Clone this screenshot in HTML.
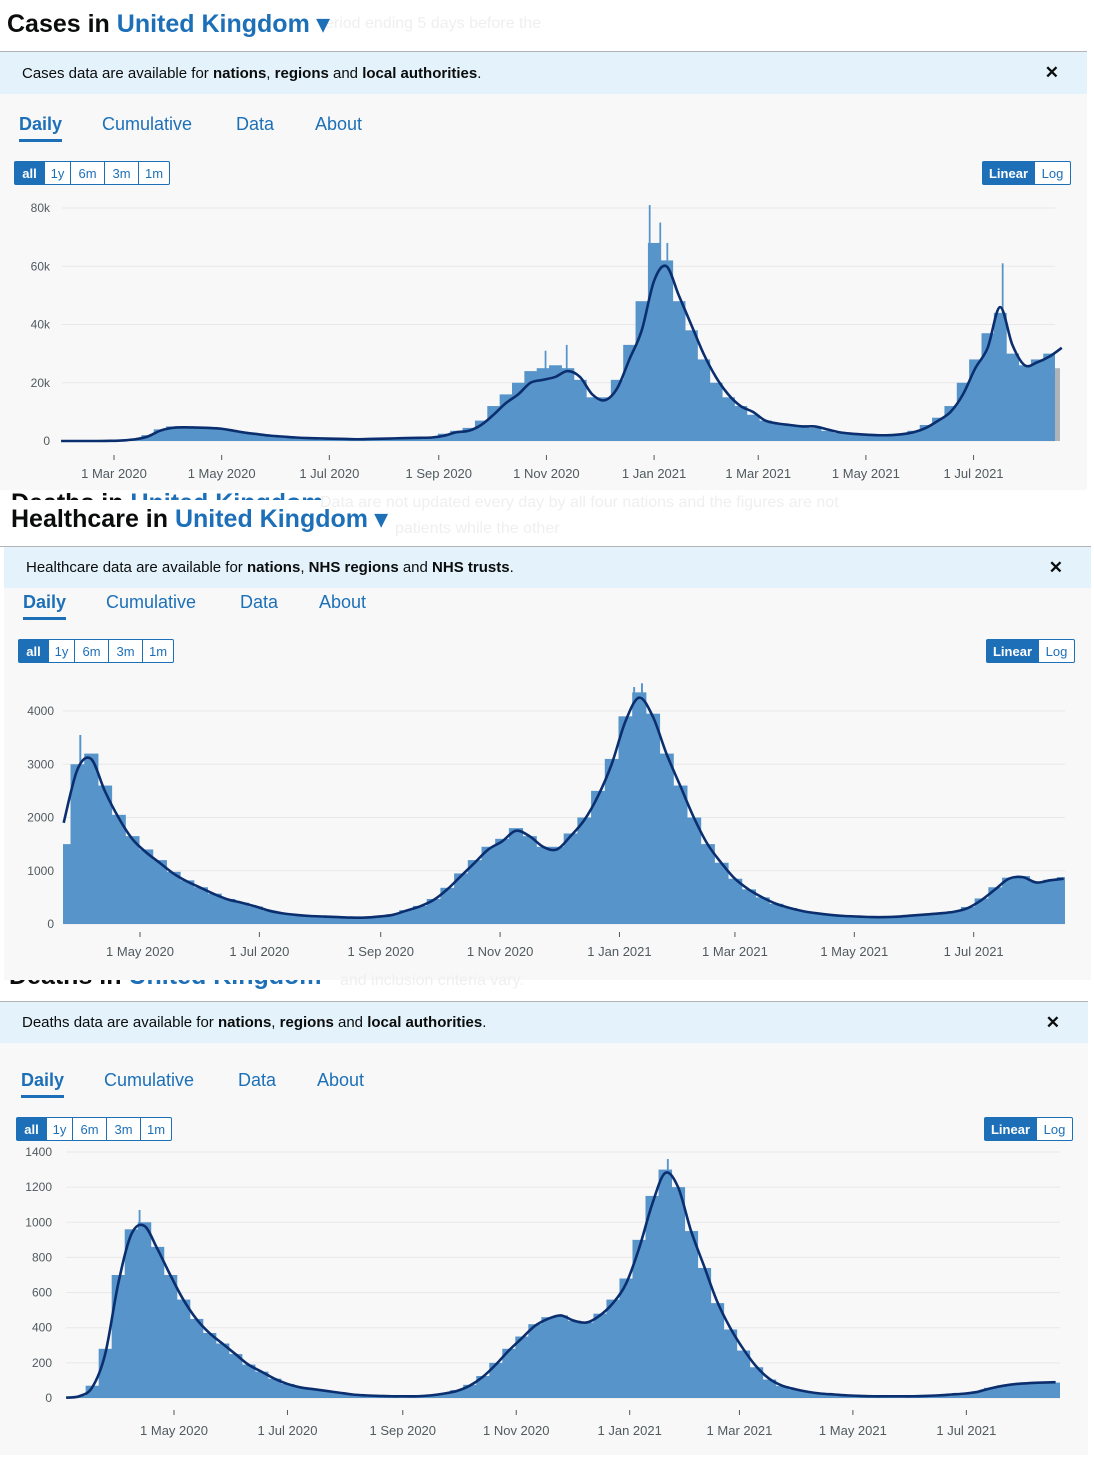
<!DOCTYPE html>
<html><head><meta charset="utf-8"><style>
body{margin:0;width:1094px;height:1461px;position:relative;background:#fff;font-family:"Liberation Sans",sans-serif;overflow:hidden}
.abs{position:absolute}
.title{font-size:25px;font-weight:bold;color:#0b0c0c;white-space:nowrap}
.title span{color:#1d70b8}
.ghost{color:#efefef;font-size:16px;white-space:nowrap}
.hr{height:1px;background:#b1b4b6}
.banner{background:#e3f2fb;font-size:15px;color:#0b0c0c;box-sizing:border-box;padding-left:22px;display:flex;align-items:center}
.close{position:absolute;right:28px;top:11px;font-size:17px;font-weight:bold}
.panel{background:#f8f8f8}
.tab{position:absolute;font-size:18px;color:#1d70b8;white-space:nowrap}
.tab.on{font-weight:bold}
.ul{position:absolute;height:3px;background:#1d70b8}
.btns{position:absolute;display:flex;border:1px solid #1d70b8;border-radius:2px;height:22px;font-size:13px;background:#fff}
.btns div{color:#1d70b8;border-left:1px solid #1d70b8;display:flex;align-items:center;justify-content:center}
.btns div:first-child{border-left:none}
.btns div.on{background:#1d70b8;color:#fff;font-weight:bold}
svg text{font-family:"Liberation Sans",sans-serif;font-size:12px;fill:#505a5f}
</style></head><body>

<!-- Panel 1: cases -->
<div class="abs ghost" style="left:325px;top:15px">eriod ending 5 days before the</div>
<div class="abs title" style="left:7px;top:9px">Cases in <span>United Kingdom ▾</span></div>
<div class="abs hr" style="left:0;top:51px;width:1087px"></div>
<div class="abs banner" style="left:0;top:52px;width:1087px;height:42px">Cases data are available for&nbsp;<b>nations</b>,&nbsp;<b>regions</b>&nbsp;and&nbsp;<b>local authorities</b>.<span class="close">✕</span></div>
<div class="abs panel" style="left:0;top:94px;width:1087px;height:396px"></div>
<div class="tab on" style="left:19px;top:114px">Daily</div>
<div class="ul" style="left:19px;top:139px;width:43px"></div>
<div class="tab" style="left:102px;top:114px">Cumulative</div>
<div class="tab" style="left:236px;top:114px">Data</div>
<div class="tab" style="left:315px;top:114px">About</div>
<div class="btns" style="left:14px;top:161px"><div class="on" style="width:29px">all</div><div style="width:25px">1y</div><div style="width:33px">6m</div><div style="width:33px">3m</div><div style="width:30px">1m</div></div>
<div class="btns" style="left:982px;top:161px"><div class="on" style="width:51px">Linear</div><div style="width:35px">Log</div></div>
<svg id="c1" class="abs" style="left:0;top:190px" width="1087" height="300"></svg>

<!-- between 1 and 2 -->
<div class="abs title" style="left:11px;top:489px;z-index:-1">Deaths in <span>United Kingdom</span></div>
<div class="abs" style="left:0;top:500px;width:1094px;height:46px;background:#fff"></div>
<div class="abs ghost" style="left:320px;top:494px">Data are not updated every day by all four nations and the figures are not</div>
<div class="abs ghost" style="left:395px;top:520px">patients while the other</div>
<!-- Panel 2: healthcare -->
<div class="abs title" style="left:11px;top:504px">Healthcare in <span>United Kingdom ▾</span></div>
<div class="abs hr" style="left:0;top:546px;width:1091px"></div>
<div class="abs banner" style="left:4px;top:547px;width:1087px;height:41px">Healthcare data are available for&nbsp;<b>nations</b>,&nbsp;<b>NHS regions</b>&nbsp;and&nbsp;<b>NHS trusts</b>.<span class="close">✕</span></div>
<div class="abs panel" style="left:4px;top:588px;width:1087px;height:392px"></div>
<div class="tab on" style="left:23px;top:592px">Daily</div>
<div class="ul" style="left:23px;top:617px;width:43px"></div>
<div class="tab" style="left:106px;top:592px">Cumulative</div>
<div class="tab" style="left:240px;top:592px">Data</div>
<div class="tab" style="left:319px;top:592px">About</div>
<div class="btns" style="left:18px;top:639px"><div class="on" style="width:29px">all</div><div style="width:25px">1y</div><div style="width:33px">6m</div><div style="width:33px">3m</div><div style="width:30px">1m</div></div>
<div class="btns" style="left:986px;top:639px"><div class="on" style="width:51px">Linear</div><div style="width:35px">Log</div></div>
<svg id="c2" class="abs" style="left:0;top:670px" width="1091" height="310"></svg>

<!-- Panel 3: deaths -->
<div class="abs title" style="left:9px;top:962px;z-index:-1">Deaths in <span>United Kingdom</span></div>
<div class="abs ghost" style="left:340px;top:972px">and inclusion criteria vary.</div>
<div class="abs hr" style="left:0;top:1001px;width:1088px"></div>
<div class="abs banner" style="left:0;top:1002px;width:1088px;height:41px">Deaths data are available for&nbsp;<b>nations</b>,&nbsp;<b>regions</b>&nbsp;and&nbsp;<b>local authorities</b>.<span class="close">✕</span></div>
<div class="abs panel" style="left:0;top:1043px;width:1088px;height:412px"></div>
<div class="tab on" style="left:21px;top:1070px">Daily</div>
<div class="ul" style="left:21px;top:1095px;width:43px"></div>
<div class="tab" style="left:104px;top:1070px">Cumulative</div>
<div class="tab" style="left:238px;top:1070px">Data</div>
<div class="tab" style="left:317px;top:1070px">About</div>
<div class="btns" style="left:16px;top:1117px"><div class="on" style="width:29px">all</div><div style="width:25px">1y</div><div style="width:33px">6m</div><div style="width:33px">3m</div><div style="width:30px">1m</div></div>
<div class="btns" style="left:984px;top:1117px"><div class="on" style="width:51px">Linear</div><div style="width:35px">Log</div></div>
<svg id="c3" class="abs" style="left:0;top:1143px" width="1088" height="312"></svg>

<script>
// ---- Cases (thousands), weekly from 2020-01-31 ----
const casesStart = "2020-01-31";
const casesLine = [0,0,0,0,0.05,0.2,0.6,1.5,3.5,4.5,4.7,4.6,4.5,4.2,3.5,2.8,2.3,1.8,1.5,1.2,1.0,0.9,0.8,0.7,0.6,0.7,0.8,0.9,1.0,1.1,1.2,1.8,3,3.5,5.5,9,13,16,20,21,22,24,22,16,14,18,28,38,55,60,50,40,30,22,16,12,10,7,6,5.5,5,5,4,3,2.5,2.2,2,2,2.3,3,4.5,7,10,16,25,32,46,33,26,27,29,32];
const casesBars = [0,0,0,0,0.1,0.3,0.8,2,4,5,5,4.8,4.6,4.3,3.6,2.9,2.3,1.8,1.5,1.2,1.0,0.9,0.8,0.7,0.7,0.8,0.9,1.0,1.1,1.2,1.5,2.5,3.5,4.5,7,12,16,20,24,25,26,25,21,15,15,21,33,48,68,62,48,38,28,20,15,12,9,7,6,5.5,5,4.5,3.5,2.8,2.3,2,2,2.1,2.5,3.5,5.5,8,12,20,28,37,44,30,26,28,30,34];
const casesSpikes = [["2020-10-31",31],["2020-11-12",33],["2020-12-29",81],["2021-01-04",75],["2021-01-08",68],["2021-07-17",61]];
const casesYTicks = [0,20,40,60,80];
const casesYLabels = ["0","20k","40k","60k","80k"];
const casesXTicks = ["2020-03-01","2020-05-01","2020-07-01","2020-09-01","2020-11-01","2021-01-01","2021-03-01","2021-05-01","2021-07-01"];
const casesXLabels = ["1 Mar 2020","1 May 2020","1 Jul 2020","1 Sep 2020","1 Nov 2020","1 Jan 2021","1 Mar 2021","1 May 2021","1 Jul 2021"];

// ---- Healthcare, weekly from 2020-03-23 ----
const hcStart = "2020-03-23";
const hcLine = [1900,2900,3100,2500,2000,1600,1350,1150,950,800,680,560,460,400,330,250,200,170,150,140,130,120,120,140,170,250,330,450,650,900,1150,1400,1550,1750,1650,1450,1400,1650,1950,2400,3000,3800,4250,3900,3200,2600,2000,1500,1150,850,650,500,380,300,240,200,170,150,140,130,130,140,160,180,200,230,300,450,650,850,880,780,820,850];
const hcBars = [1500,3000,3200,2600,2050,1650,1400,1200,980,820,690,570,470,400,330,250,200,170,150,140,130,120,120,140,180,260,340,470,680,950,1200,1450,1600,1800,1650,1450,1450,1700,2000,2500,3100,3900,4350,3950,3200,2600,2000,1500,1150,850,650,500,380,300,240,200,170,150,140,130,130,140,160,180,210,240,320,480,690,870,900,790,830,880];
const hcSpikes = [["2020-03-31",3550],["2021-01-12",4520],["2021-01-08",4450]];
const hcYTicks = [0,1000,2000,3000,4000];
const hcYLabels = ["0","1000","2000","3000","4000"];
const hcXTicks = ["2020-05-01","2020-07-01","2020-09-01","2020-11-01","2021-01-01","2021-03-01","2021-05-01","2021-07-01"];
const hcXLabels = ["1 May 2020","1 Jul 2020","1 Sep 2020","1 Nov 2020","1 Jan 2021","1 Mar 2021","1 May 2021","1 Jul 2021"];

// ---- Deaths, weekly from 2020-03-04 ----
const dStart = "2020-03-04";
const dLine = [2,10,60,250,650,930,980,850,700,560,450,370,310,250,190,150,110,80,60,50,40,30,20,15,12,10,10,10,15,25,40,70,120,190,270,340,410,450,470,440,430,470,540,650,850,1100,1280,1200,950,750,550,400,280,180,110,70,50,35,25,20,15,12,10,10,10,10,12,15,20,25,35,55,70,80,85,88,90];
const dBars = [2,12,70,280,700,960,1000,860,700,560,450,370,310,250,190,150,110,80,60,50,40,30,20,15,12,10,10,10,15,25,45,75,125,200,280,350,420,460,470,440,430,480,560,680,900,1150,1300,1200,950,740,540,390,270,175,105,68,48,34,24,20,15,12,10,10,10,10,12,15,20,26,38,58,72,82,86,90,88];
const dSpikes = [["2020-04-12",1070],["2021-01-21",1360]];
const dYTicks = [0,200,400,600,800,1000,1200,1400];
const dYLabels = ["0","200","400","600","800","1000","1200","1400"];
const dXTicks = ["2020-05-01","2020-07-01","2020-09-01","2020-11-01","2021-01-01","2021-03-01","2021-05-01","2021-07-01"];
const dXLabels = ["1 May 2020","1 Jul 2020","1 Sep 2020","1 Nov 2020","1 Jan 2021","1 Mar 2021","1 May 2021","1 Jul 2021"];

const NS="http://www.w3.org/2000/svg";
function dayNum(s){return Date.parse(s+"T00:00:00Z")/86400000;}
function mk(tag,attrs){const e=document.createElementNS(NS,tag);for(const k in attrs)e.setAttribute(k,attrs[k]);return e;}
function smooth(pts){let d="M"+pts[0][0]+","+pts[0][1];for(let i=0;i<pts.length-1;i++){const p0=pts[i-1]||pts[i],p1=pts[i],p2=pts[i+1],p3=pts[i+2]||p2;const c1x=p1[0]+(p2[0]-p0[0])/6,c1y=p1[1]+(p2[1]-p0[1])/6,c2x=p2[0]-(p3[0]-p1[0])/6,c2y=p2[1]-(p3[1]-p1[1])/6;d+=" C"+c1x+","+c1y+" "+c2x+","+c2y+" "+p2[0]+","+p2[1];}return d;}

function draw(id,cfg){
  const svg=document.getElementById(id);
  const anchor=dayNum(cfg.anchorDate);
  const x=d=>cfg.anchorX+(d-anchor)*cfg.ppd;
  const y=v=>cfg.y0-(v/cfg.yMax)*(cfg.y0-cfg.yTop);
  const start=dayNum(cfg.start);
  cfg.yTicks.forEach((t,i)=>{
    const g=mk("line",{x1:cfg.plotL,x2:cfg.plotR,y1:y(t),y2:y(t),stroke:"#e8e8e8","stroke-width":1});
    
    
    svg.appendChild(g);
    const tx=mk("text",{x:cfg.labelX,y:y(t)+4,"text-anchor":"end"});tx.textContent=cfg.yLabels[i];
    
    
    svg.appendChild(tx);
  });
  const w=7*cfg.ppd;
  cfg.bars.forEach((v,i)=>{
    const d=start+i*7;
    let x1=Math.max(cfg.plotL,x(d)-w/2), x2=Math.min(cfg.plotR,x(d)+w/2+0.5);
    if(x2<=x1) return;
    const r=mk("rect",{x:x1,y:y(v),width:x2-x1,height:Math.max(0,cfg.y0-y(v)),fill:"#5694ca"});
    
    
    svg.appendChild(r);
  });
  cfg.spikes.forEach(s=>{
    const d=dayNum(s[0]);
    const r=mk("rect",{x:x(d),y:y(s[1]),width:cfg.ppd,height:cfg.y0-y(s[1]),fill:"#5694ca"});
    
    
    svg.appendChild(r);
  });
  if(cfg.grey){
    const r=mk("rect",{x:cfg.grey[0],y:y(cfg.grey[1]),width:5,height:cfg.y0-y(cfg.grey[1]),fill:"#b1b4b6"});
    
    
    svg.appendChild(r);
  }
  const pts=cfg.line.map((v,i)=>[x(start+i*7),y(v)]);
  const p=mk("path",{d:smooth(pts),fill:"none",stroke:"#0b2e6e","stroke-width":2.6});
  
  
  svg.appendChild(p);
  cfg.xTicks.forEach((t,i)=>{
    const xx=x(dayNum(t));
    const tk=mk("line",{x1:xx,x2:xx,y1:cfg.tickY,y2:cfg.tickY+5,stroke:"#505a5f"});
    
    
    svg.appendChild(tk);
    const tx=mk("text",{x:xx,y:cfg.xLabelY,"text-anchor":"middle",style:"font-size:13px"});tx.textContent=cfg.xLabels[i];
    
    
    svg.appendChild(tx);
  });
}
draw("c1",{start:casesStart,line:casesLine,bars:casesBars,spikes:casesSpikes,yTicks:casesYTicks,yLabels:casesYLabels,xTicks:casesXTicks,xLabels:casesXLabels,
  anchorDate:"2020-03-01",anchorX:114,ppd:1.765,y0:251,yTop:18,yMax:80,plotL:62,plotR:1055,labelX:50,tickY:265,xLabelY:288,grey:[1055,25]});
draw("c2",{start:hcStart,line:hcLine,bars:hcBars,spikes:hcSpikes,yTicks:hcYTicks,yLabels:hcYLabels,xTicks:hcXTicks,xLabels:hcXLabels,
  anchorDate:"2020-05-01",anchorX:140,ppd:1.957,y0:254,yTop:41,yMax:4000,plotL:63,plotR:1065,labelX:54,tickY:262,xLabelY:286});
draw("c3",{start:dStart,line:dLine,bars:dBars,spikes:dSpikes,yTicks:dYTicks,yLabels:dYLabels,xTicks:dXTicks,xLabels:dXLabels,
  anchorDate:"2020-05-01",anchorX:174,ppd:1.86,y0:255,yTop:9,yMax:1400,plotL:66,plotR:1060,labelX:52,tickY:267,xLabelY:292});
</script>
</body></html>
